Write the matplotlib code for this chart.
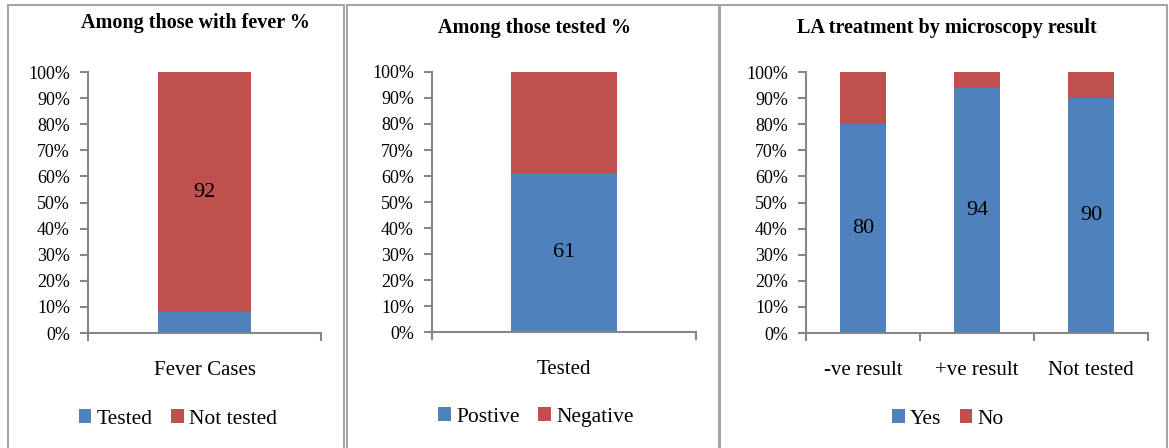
import matplotlib.pyplot as plt
from matplotlib.patches import Rectangle
from matplotlib.ticker import PercentFormatter

# fever cases: tested vs not tested
fever_cats = ["Fever Cases"]
fever_tested = [8]
fever_not_tested = [92]

# microscopy result among those tested
tested_cats = ["Tested"]
tested_pos = [61]
tested_neg = [39]

# LA treatment by microscopy result
la_cats = ["-ve result", "+ve result", "Not tested"]
la_yes = [80, 94, 90]
la_no = [20, 6, 10]

BLUE = "#4F81BD"
RED = "#C0504D"
AXIS = "#868686"
W, H = 1169, 448

plt.rcParams["font.family"] = ["Liberation Serif", "DejaVu Serif"]

fig = plt.figure(figsize=(W / 100, H / 100), dpi=100)
fig.patch.set_facecolor("white")


def px(x0, x1, ytop, ybot):
    return [x0 / W, 1 - ybot / H, (x1 - x0) / W, (ybot - ytop) / H]


def stacked(rect, cats, low, high, names, label_low, title, title_xy, legend_xy):
    ax = fig.add_axes(rect)
    x = range(len(cats))
    b1 = ax.bar(x, low, width=0.4, color=BLUE, label=names[0])
    b2 = ax.bar(x, high, width=0.4, bottom=low, color=RED, label=names[1])
    if label_low:
        ax.bar_label(b1, labels=[str(v) for v in low], label_type="center", fontsize=16)
    else:
        ax.bar_label(b2, labels=[str(v) for v in high], label_type="center", fontsize=16)
    ax.set_xlim(-0.5, len(cats) - 0.5)
    ax.set_ylim(0, 100)
    ax.set_yticks(range(0, 101, 10))
    ax.yaxis.set_major_formatter(PercentFormatter(decimals=0))
    ax.set_xticks(list(x))
    ax.set_xticklabels(cats, fontsize=15)
    ax.set_xticks([i - 0.5 for i in range(len(cats) + 1)], minor=True)
    ax.tick_params(axis="x", which="major", length=0, pad=20)
    ax.tick_params(axis="x", which="minor", length=6, direction="out", color=AXIS, width=1.5)
    ax.tick_params(axis="y", length=6, color=AXIS, width=1.5, labelsize=13, pad=7)
    for s in ["top", "right"]:
        ax.spines[s].set_visible(False)
    for s in ["left", "bottom"]:
        ax.spines[s].set_color(AXIS)
        ax.spines[s].set_linewidth(1.5)
    fig.text(title_xy[0] / W, 1 - title_xy[1] / H, title, ha="center", va="center",
             fontsize=14.5, fontweight="bold")
    ax.legend(loc="center", bbox_to_anchor=(legend_xy[0] / W, 1 - legend_xy[1] / H),
              bbox_transform=fig.transFigure, ncol=2, frameon=False, fontsize=15.5,
              handlelength=0.58, handleheight=0.58, handletextpad=0.25, columnspacing=0.85)
    return ax


stacked(px(88, 321, 72, 333), fever_cats, fever_tested, fever_not_tested,
        ["Tested", "Not tested"], False, "Among those with fever %", (195, 23), (178, 419))
stacked(px(432, 696, 72, 332), tested_cats, tested_pos, tested_neg,
        ["Postive", "Negative"], True, "Among those tested %", (535, 28), (536, 417))
stacked(px(806, 1148, 72, 333), la_cats, la_yes, la_no,
        ["Yes", "No"], True, "LA treatment by microscopy result", (947, 28), (948, 419))

# panel frames
for x0, x1 in [(8, 344), (347, 719), (720, 1167)]:
    fig.add_artist(Rectangle((x0 / W, -0.1), (x1 - x0) / W, 1.1 - 5 / H,
                             transform=fig.transFigure, fill=False,
                             edgecolor="#A6A6A6", linewidth=1.5))

fig.savefig("out.png", dpi=100)
